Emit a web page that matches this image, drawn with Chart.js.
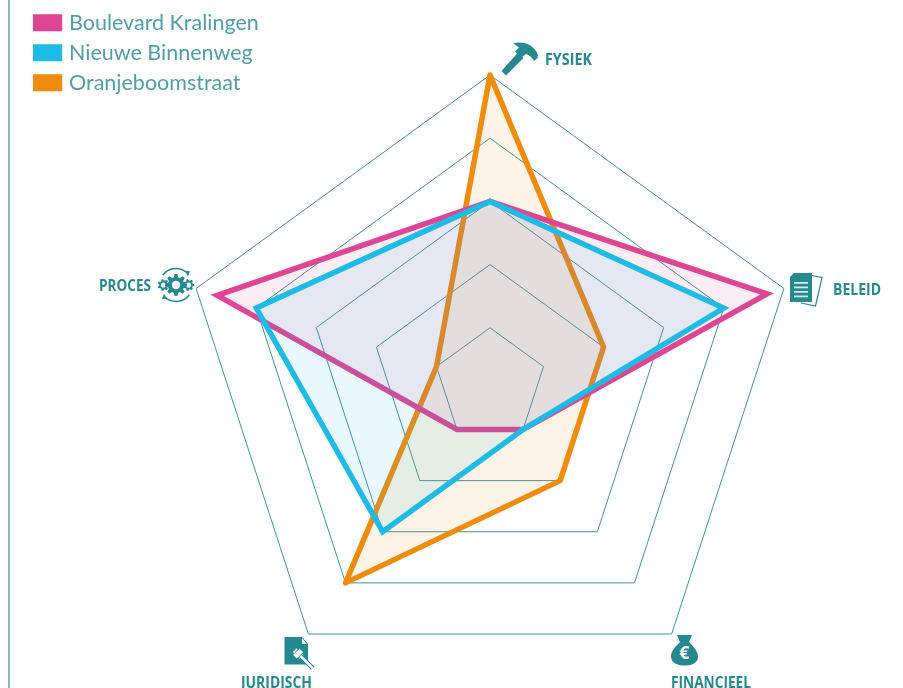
<!DOCTYPE html>
<html>
<head>
<meta charset="utf-8">
<script src="https://cdn.jsdelivr.net/npm/chart.js@4"></script>
<style>
html,body{margin:0;padding:0;background:#fff;overflow:hidden;width:903px;height:688px}
#wrap{position:absolute;left:0;top:0;width:903px;height:720px}
#rule{position:absolute;left:8px;top:0;width:2px;height:688px;background:#7fbcc2}
</style>
</head>
<body>
<div id="wrap"><canvas id="c" width="903" height="720"></canvas></div>
<div id="rule"></div>
<script>
const categories = ['FYSIEK', 'BELEID', 'FINANCIEEL', 'JURIDISCH', 'PROCES'];
const seriesNames = ['Boulevard Kralingen', 'Nieuwe Binnenweg', 'Oranjeboomstraat'];
const boulevardKralingen = [3, 4.72, 1, 1, 4.65];
const nieuweBinnenweg = [3, 4, 1, 3, 4];
const oranjeboomstraat = [5, 2, 2, 4, 1];
const seriesColors = ['#de4595', '#1ebbe6', '#f08c0d'];
const seriesFills = ['rgba(222,69,149,0.1)', 'rgba(30,187,230,0.1)', 'rgba(240,140,13,0.1)'];
const TEAL = '#258a90';

function gear(ctx, x, y, r, teeth, hole, fg, bg) {
  ctx.fillStyle = fg;
  ctx.beginPath();
  for (let i = 0; i < teeth * 2; i++) {
    const a0 = (i - 0.32) * Math.PI / teeth, a1 = (i + 0.32) * Math.PI / teeth;
    const R = i % 2 === 0 ? r : r * 0.74;
    ctx.lineTo(x + R * Math.cos(a0), y + R * Math.sin(a0));
    ctx.lineTo(x + R * Math.cos(a1), y + R * Math.sin(a1));
  }
  ctx.closePath(); ctx.fill();
  ctx.fillStyle = bg;
  ctx.beginPath(); ctx.arc(x, y, hole, 0, Math.PI * 2); ctx.fill();
}

const icons = [
  function hammer(ctx) {
    ctx.fillStyle = TEAL;
    ctx.beginPath();
    ctx.moveTo(501.5, 71); ctx.lineTo(518, 52.5); ctx.lineTo(523.5, 58); ctx.lineTo(506, 75.5);
    ctx.closePath(); ctx.fill();
    ctx.beginPath();
    ctx.moveTo(513, 43);
    ctx.quadraticCurveTo(532, 40, 538, 55);
    ctx.lineTo(537.5, 58); ctx.lineTo(534, 61);
    ctx.quadraticCurveTo(531, 55.5, 526, 54);
    ctx.lineTo(521, 58); ctx.lineTo(515, 51.5); ctx.lineTo(519, 47.5);
    ctx.closePath(); ctx.fill();
  },
  function doc(ctx) {
    ctx.strokeStyle = TEAL; ctx.lineWidth = 1.2;
    ctx.beginPath();
    ctx.moveTo(812, 275.5); ctx.lineTo(822, 277.5); ctx.lineTo(815.5, 306); ctx.lineTo(801, 303);
    ctx.stroke();
    ctx.fillStyle = TEAL;
    ctx.beginPath();
    ctx.moveTo(794, 273); ctx.lineTo(812, 273); ctx.lineTo(812, 302); ctx.lineTo(790, 302); ctx.lineTo(790, 277);
    ctx.closePath(); ctx.fill();
    ctx.fillStyle = '#d5e9ea';
    [282, 286.5, 291, 295.5].forEach(y => ctx.fillRect(794, y, 14, 1.8));
  },
  function money(ctx) {
    ctx.fillStyle = TEAL;
    ctx.beginPath();
    ctx.moveTo(677, 635); ctx.lineTo(692, 635); ctx.lineTo(689, 642);
    ctx.bezierCurveTo(694, 647, 698.5, 652, 698, 657);
    ctx.bezierCurveTo(698, 663, 692, 665.5, 685, 665.5);
    ctx.bezierCurveTo(677, 665.5, 671, 663, 671, 656);
    ctx.bezierCurveTo(671, 651, 676, 646, 680, 642);
    ctx.closePath(); ctx.fill();
    ctx.fillStyle = '#fff';
    ctx.font = 'bold 18px "Open Sans"';
    ctx.textAlign = 'center'; ctx.textBaseline = 'middle';
    ctx.fillText('€', 684.5, 654);
  },
  function law(ctx) {
    ctx.fillStyle = TEAL;
    ctx.beginPath();
    ctx.moveTo(284.5, 637); ctx.lineTo(302, 637); ctx.lineTo(308, 644); ctx.lineTo(308, 664.5); ctx.lineTo(284.5, 664.5);
    ctx.closePath(); ctx.fill();
    ctx.fillStyle = '#e8f3f4';
    ctx.beginPath(); ctx.moveTo(302, 638); ctx.lineTo(307, 644); ctx.lineTo(302, 644); ctx.closePath(); ctx.fill();
    ctx.save();
    ctx.translate(298.5, 654); ctx.rotate(Math.PI / 4);
    ctx.fillStyle = '#fff';
    ctx.fillRect(-5.5, -2.6, 1.8, 5.2);
    ctx.fillRect(-3, -4.5, 5, 9);
    ctx.fillRect(2.7, -2.6, 1.8, 5.2);
    ctx.strokeStyle = TEAL; ctx.lineWidth = 4.5; ctx.beginPath(); ctx.moveTo(3, 0); ctx.lineTo(20, 0); ctx.stroke();
    ctx.strokeStyle = '#fff'; ctx.lineWidth = 2.4; ctx.beginPath(); ctx.moveTo(3, 0); ctx.lineTo(20, 0); ctx.stroke();
    ctx.restore();
  },
  function process(ctx) {
    gear(ctx, 163.5, 285, 6, 7, 2.6, TEAL, '#fff');
    gear(ctx, 188.5, 285, 6, 7, 2.6, TEAL, '#fff');
    gear(ctx, 176, 285, 11, 8, 4.2, TEAL, '#fff');
    ctx.strokeStyle = TEAL; ctx.fillStyle = TEAL; ctx.lineWidth = 1.6;
    ctx.beginPath(); ctx.arc(176, 285, 16.5, Math.PI * 1.2, Math.PI * 1.72); ctx.stroke();
    ctx.beginPath(); ctx.moveTo(190, 271); ctx.lineTo(185, 271); ctx.lineTo(188, 276.5); ctx.closePath(); ctx.fill();
    ctx.beginPath(); ctx.arc(176, 285, 16.5, Math.PI * 0.2, Math.PI * 0.72); ctx.stroke();
    ctx.beginPath(); ctx.moveTo(162, 299); ctx.lineTo(167, 299); ctx.lineTo(164, 293.5); ctx.closePath(); ctx.fill();
  }
];

const labelAnchors = [
  {x: 545, y: 60, w: 47}, {x: 833, y: 290, w: 48}, {x: 671, y: 683, w: 80}, {x: 241, y: 683, w: 71}, {x: 99, y: 286, w: 52}
];

const decorate = {
  id: 'decorate',
  afterUpdate(chart) {
    const l = chart.legend;
    if (l) { const w = l.width, h = l.height; l.left = 28.5; l.top = 3.5; l.right = 28.5 + w; l.bottom = 3.5 + h; }
  },
  afterDraw(chart) {
    const ctx = chart.ctx;
    ctx.save();
    chart.data.labels.forEach((t, i) => {
      ctx.fillStyle = TEAL;
      ctx.textAlign = 'left'; ctx.textBaseline = 'middle';
      ctx.font = 'bold 16.5px "Open Sans"';
      ctx.fillText(t, labelAnchors[i].x, labelAnchors[i].y, labelAnchors[i].w);
    });
    icons.forEach(fn => { ctx.save(); fn(ctx); ctx.restore(); });
    ctx.restore();
  }
};

function makeSet(i, data, order, join) {
  return {
    label: seriesNames[i], data,
    borderColor: seriesColors[i], backgroundColor: seriesFills[i],
    borderWidth: 5.5, pointRadius: 0, pointHoverRadius: 0,
    fill: true, tension: 0, order, borderJoinStyle: join
  };
}

new Chart(document.getElementById('c'), {
  type: 'radar',
  data: {
    labels: categories,
    datasets: [
      makeSet(0, boulevardKralingen, 2, 'miter'),
      makeSet(1, nieuweBinnenweg, 1, 'miter'),
      makeSet(2, oranjeboomstraat, 3, 'round')
    ]
  },
  plugins: [decorate],
  options: {
    responsive: false, animation: false,
    layout: {padding: {left: 181, right: 104, top: 75, bottom: 27}},
    plugins: {
      tooltip: {enabled: false},
      legend: {
        position: 'chartArea', align: 'start',
        labels: {
          color: '#4f9fa8',
          font: {family: 'Lato', size: 21.5},
          padding: 8.5, boxWidth: 21.25, boxHeight: 9,
          generateLabels(chart) {
            return chart.data.datasets.map((d, i) => ({
              text: d.label, fillStyle: seriesColors[i], strokeStyle: seriesColors[i],
              lineWidth: 8, hidden: false, datasetIndex: i, fontColor: '#4f9fa8'
            }));
          }
        }
      }
    },
    scales: {
      r: {
        min: 0.11, max: 5,
        ticks: {display: false, stepSize: 1},
        angleLines: {display: false},
        pointLabels: {display: false},
        grid: {color: '#3f9299', lineWidth: 1}
      }
    }
  }
});
</script>
</body>
</html>
